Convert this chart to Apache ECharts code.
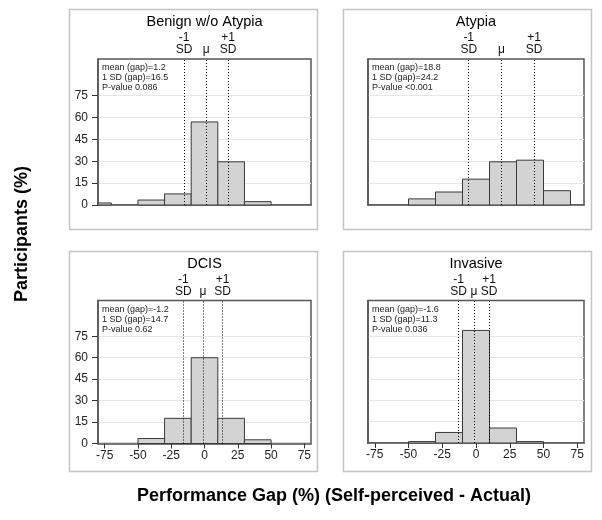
<!DOCTYPE html>
<html><head><meta charset="utf-8">
<script src="https://cdn.jsdelivr.net/npm/echarts@6/dist/echarts.min.js"></script>
<style>html,body{margin:0;padding:0;background:#fff}#c{width:602px;height:520px}</style>
</head><body><div id="c"></div>
<script>
const panelTitles = ['Benign w/o Atypia', 'Atypia', 'DCIS', 'Invasive'];
const binEdges = [-90, -70, -50, -30, -10, 10, 30, 50, 70];
const benignValues = [1.4, 0, 3.4, 7.6, 56.9, 29.6, 2.3, 0];
const atypiaValues = [0, 0, 4.2, 8.9, 17.7, 29.6, 30.7, 9.8];
const dcisValues = [0, 0, 3.5, 17.6, 60, 17.6, 2.6, 0];
const invasiveValues = [0, 0, 1, 7.4, 79, 10.5, 1, 0];
const means = [1.2, 18.8, -1.2, -1.6];
const sds = [16.5, 24.2, 14.7, 11.3];
const pValueTexts = ['P-value 0.086', 'P-value <0.001', 'P-value 0.62', 'P-value 0.036'];
const yTicks = [0, 15, 30, 45, 60, 75];
const xTicks = [-75, -50, -25, 0, 25, 50, 75];
const yAxisTitle = 'Participants (%)';
const xAxisTitle = 'Performance Gap (%) (Self-perceived - Actual)';

const allValues = [benignValues, atypiaValues, dcisValues, invasiveValues];
const FONT = "'Liberation Sans', Arial, sans-serif";

// layout (pixels)
const grids = [
  {left: 98, top: 59, width: 213, height: 146},
  {left: 368, top: 59, width: 216, height: 146},
  {left: 98, top: 300.5, width: 213, height: 143},
  {left: 368, top: 300.5, width: 216, height: 142.5}
];
const boxes = [
  {x: 69.5, y: 9.5, width: 248, height: 220},
  {x: 343.5, y: 9.5, width: 248, height: 220},
  {x: 69.5, y: 251.5, width: 248, height: 220},
  {x: 343.5, y: 251.5, width: 248, height: 220}
];

function renderBar(params, api) {
  const x0 = api.value(0), x1 = api.value(1), v = api.value(2);
  if (!(v > 0)) return null;
  const a = api.coord([x0, 0]), b = api.coord([x1, v]);
  const cs = params.coordSys;
  const rect = {x: a[0], y: b[1], width: b[0] - a[0], height: a[1] - b[1]};
  const clipped = echarts.graphic.clipRectByRect(rect, {x: cs.x, y: cs.y, width: cs.width, height: cs.height});
  if (!clipped) return null;
  return {type: 'rect', shape: clipped, style: {fill: '#d3d3d3', stroke: '#3a3a3a', lineWidth: 1}};
}

const option = {
  animation: false,
  backgroundColor: '#fff',
  textStyle: {fontFamily: FONT},
  grid: grids.map(g => Object.assign({show: true, borderColor: '#555', borderWidth: 1.5, backgroundColor: 'transparent'}, g)),
  xAxis: grids.map((g, i) => ({
    type: 'value', gridIndex: i, min: -80, max: 80,
    splitLine: {show: false},
    axisLine: {show: true, onZero: false, lineStyle: {color: '#555', width: 1.5}},
    axisTick: {show: i >= 2, length: 5, customValues: xTicks, lineStyle: {color: '#333'}},
    axisLabel: {show: i >= 2, customValues: xTicks, margin: 6, fontSize: 12, color: '#222', fontFamily: FONT}
  })),
  yAxis: grids.map((g, i) => ({
    type: 'value', gridIndex: i, min: 0, max: 100,
    axisLine: {show: true, onZero: false, lineStyle: {color: '#555', width: 1.5}},
    axisTick: {show: i % 2 === 0, length: 6, customValues: yTicks, lineStyle: {color: '#333'}},
    axisLabel: {show: i % 2 === 0, customValues: yTicks, margin: 10, fontSize: 12, color: '#222', fontFamily: FONT},
    splitLine: {show: true, lineStyle: {color: '#e6e6e6', width: 1}}
  })),
  series: allValues.map((vals, i) => ({
    type: 'custom', xAxisIndex: i, yAxisIndex: i,
    renderItem: renderBar,
    encode: {x: [0, 1], y: 2},
    data: vals.map((v, k) => [binEdges[k], binEdges[k + 1], v]),
    markLine: {
      silent: true, symbol: 'none', animation: false,
      lineStyle: {type: [1, 2], color: '#000', width: 1},
      label: {show: true, position: 'end', distance: 3, fontSize: 12, lineHeight: 12, color: '#111', fontFamily: FONT},
      data: [
        {xAxis: means[i] - sds[i], label: {formatter: '-1\nSD'}},
        {xAxis: means[i], label: {formatter: 'μ'}},
        {xAxis: means[i] + sds[i], label: {formatter: '+1\nSD'}}
      ]
    }
  })),
  graphic: [
    ...boxes.map(b => ({type: 'rect', silent: true, z: -10, shape: b, style: {fill: 'none', stroke: '#c4c4c4', lineWidth: 1.5}})),
    ...grids.map((g, i) => ({
      type: 'text', silent: true, x: g.left + g.width / 2, y: g.top - 37,
      style: {text: panelTitles[i], fontSize: 14.5, fontFamily: FONT, fill: '#000', textAlign: 'center', textVerticalAlign: 'middle'}
    })),
    ...grids.map((g, i) => ({
      type: 'text', silent: true, x: g.left + 4, y: g.top + 4,
      style: {
        text: 'mean (gap)=' + means[i] + '\n1 SD (gap)=' + sds[i] + '\n' + pValueTexts[i],
        fontSize: 9, lineHeight: 10, fontFamily: FONT, fill: '#222'
      }
    })),
    {type: 'text', silent: true, x: 22, y: 234, rotation: Math.PI / 2,
      style: {text: yAxisTitle, fontSize: 18, fontWeight: 'bold', fontFamily: FONT, fill: '#000', textAlign: 'center', textVerticalAlign: 'middle'}},
    {type: 'text', silent: true, x: 334, y: 496,
      style: {text: xAxisTitle, fontSize: 18, fontWeight: 'bold', fontFamily: FONT, fill: '#000', textAlign: 'center', textVerticalAlign: 'middle'}}
  ]
};

const chart = echarts.init(document.getElementById('c'), null, {renderer: 'canvas'});
chart.setOption(option);
</script>
</body></html>
